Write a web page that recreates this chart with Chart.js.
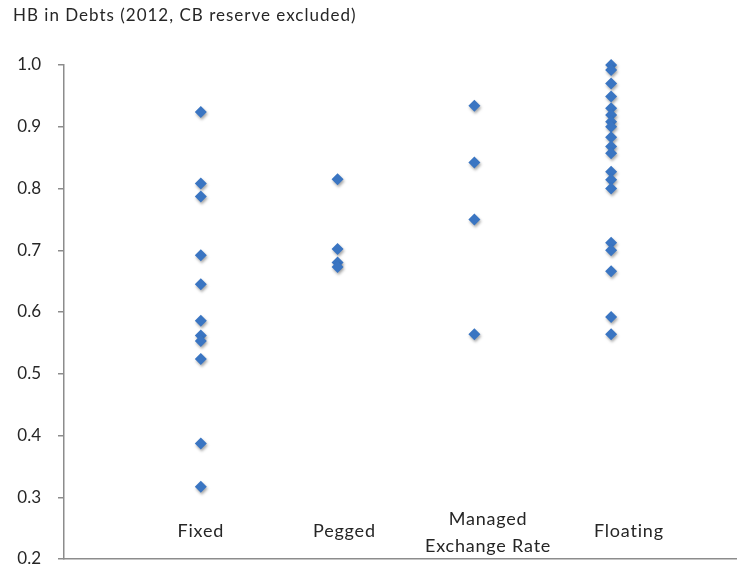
<!DOCTYPE html>
<html>
<head>
<meta charset="utf-8">
<script src="https://cdn.jsdelivr.net/npm/chart.js@4/dist/chart.umd.min.js"></script>
<style>
  html, body { margin: 0; padding: 0; background: #fff; overflow: hidden; }
  #wrap { width: 737px; height: 576px; }
</style>
</head>
<body>
<div id="wrap"><canvas id="c" width="737" height="576"></canvas></div>
<script>
const title = 'HB in Debts (2012, CB reserve excluded)';
const categories = ['Fixed', 'Pegged', ['Managed', 'Exchange Rate'], 'Floating'];
const categoryX = [1, 2, 3, 4];
const fixedValues = [0.924, 0.808, 0.787, 0.692, 0.645, 0.586, 0.562, 0.553, 0.524, 0.387, 0.317];
const peggedValues = [0.815, 0.702, 0.680, 0.673];
const managedValues = [0.934, 0.842, 0.750, 0.564];
const floatingValues = [1.000, 0.992, 0.970, 0.949, 0.930, 0.919, 0.908, 0.900, 0.883, 0.868, 0.857, 0.827, 0.814, 0.800, 0.712, 0.700, 0.666, 0.592, 0.564];
const yTicks = [0.2, 0.3, 0.4, 0.5, 0.6, 0.7, 0.8, 0.9, 1.0];

const groups = [fixedValues, peggedValues, managedValues, floatingValues];
const points = [];
groups.forEach((vals, i) => vals.forEach(v => points.push({ x: categoryX[i], y: v })));

// label anchor positions (x-axis units) for the category text boxes
const labelX = [1.0, 2.05, 3.1, 4.13];

const textLayer = {
  id: 'textLayer',
  afterDraw(chart) {
    const { ctx, scales, chartArea } = chart;
    ctx.save();
    ctx.fillStyle = '#262626';
    ctx.textBaseline = 'middle';
    // title
    ctx.font = '17px Lato';
    ctx.letterSpacing = '1px';
    ctx.textAlign = 'left';
    ctx.fillText(title, 13, 16);
    // category labels
    ctx.font = '18px Lato';
    ctx.letterSpacing = '0.8px';
    ctx.textAlign = 'center';
    categories.forEach((lab, i) => {
      const x = scales.x.getPixelForValue(labelX[i]);
      if (Array.isArray(lab)) {
        ctx.fillText(lab[0], x, chartArea.bottom - 40);
        ctx.fillText(lab[1], x, chartArea.bottom - 13);
      } else {
        ctx.fillText(lab, x, chartArea.bottom - 28);
      }
    });
    ctx.restore();
  }
};

const shadow = {
  id: 'shadow',
  beforeDatasetDraw(chart) {
    const ctx = chart.ctx;
    ctx.save();
    ctx.shadowColor = 'rgba(0,0,0,0.35)';
    ctx.shadowBlur = 3;
    ctx.shadowOffsetX = 1;
    ctx.shadowOffsetY = 2;
  },
  afterDatasetDraw(chart) {
    chart.ctx.restore();
  }
};

new Chart(document.getElementById('c'), {
  type: 'scatter',
  data: {
    datasets: [{
      data: points,
      pointStyle: 'rectRot',
      pointRadius: 6,
      pointHoverRadius: 6,
      backgroundColor: '#3A75C2',
      borderColor: '#3A75C2',
      borderWidth: 0,
      clip: false
    }]
  },
  plugins: [textLayer, shadow],
  options: {
    responsive: false,
    animation: false,
    events: [],
    layout: { autoPadding: false, padding: { left: 0, right: 0, top: 65, bottom: 0 } },
    plugins: {
      legend: { display: false },
      tooltip: { enabled: false },
      title: { display: false }
    },
    scales: {
      x: {
        type: 'linear',
        min: 0,
        max: 4.92,
        ticks: { display: false },
        grid: { display: false },
        border: { display: true, color: '#8c8c8c', width: 1.5 },
        afterFit(s) { s.height = 17; }
      },
      y: {
        type: 'linear',
        min: 0.2,
        max: 1.0,
        afterBuildTicks(s) { s.ticks = yTicks.map(v => ({ value: v })); },
        ticks: {
          color: '#262626',
          font: { family: 'Lato', size: 17 },
          padding: 17,
          callback: v => v.toFixed(1)
        },
        grid: { drawOnChartArea: false, drawTicks: true, tickLength: 6, color: '#8c8c8c', lineWidth: 1.5 },
        border: { display: true, color: '#8c8c8c', width: 1.5 },
        afterFit(s) { s.width = 64; s.paddingTop = 0; s.paddingBottom = 0; }
      }
    }
  }
});
</script>
</body>
</html>
